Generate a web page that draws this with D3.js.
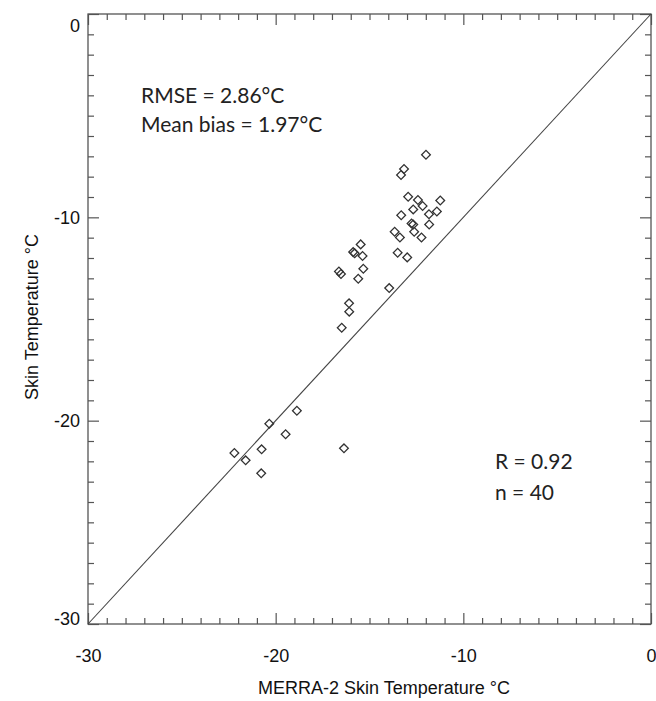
<!DOCTYPE html>
<html>
<head>
<meta charset="utf-8">
<script src="https://cdn.jsdelivr.net/npm/d3@7"></script>
<style>
  body { margin: 0; background: #fff; }
  svg { display: block; }
  .tick text { font-family: "Liberation Sans", Arial, sans-serif; font-size: 18px; fill: #111; }
  .tick line { stroke: #555; stroke-width: 1.2; }
  .axis_label { font-family: "Liberation Sans", Arial, sans-serif; font-size: 18px; fill: #111; }
  .note { font-family: "Lato", "Open Sans", sans-serif; font-size: 21px; fill: #222; }
</style>
</head>
<body>
<svg id="graph" width="656" height="701"></svg>
<script>
/*************************************************/
// Data: MERRA-2 skin temperature (x) vs observed skin temperature (y), in °C

var merraT = [-11.99, -13.16, -13.32, -12.94, -12.42, -11.23, -12.17, -12.67, -11.41, -13.31,
              -11.83, -12.76, -12.67, -11.82, -12.62, -13.66, -13.38, -12.23, -15.47, -15.87,
              -15.79, -15.37, -13.50, -12.99, -15.33, -16.63, -16.52, -15.60, -13.95, -16.09,
              -16.08, -16.48, -18.87, -20.34, -19.47, -22.20, -20.75, -21.60, -20.77, -16.36];
var skinT  = [ -6.92,  -7.62,  -7.92,  -8.99,  -9.15,  -9.17,  -9.44,  -9.61,  -9.71,  -9.90,
               -9.85, -10.30, -10.35, -10.35, -10.71, -10.71, -10.99, -10.99, -11.33, -11.71,
              -11.77, -11.90, -11.74, -11.97, -12.53, -12.66, -12.79, -13.02, -13.48, -14.23,
              -14.64, -15.43, -19.51, -20.15, -20.67, -21.59, -21.41, -21.95, -22.59, -21.36];

var axisRange = [-30, 0];
var majorTicks = [-30, -20, -10, 0];
var minorTicks = d3.range(-30, 1).filter(function(v){ return majorTicks.indexOf(v) < 0 });

var statsLeft = ['RMSE = 2.86°C', 'Mean bias = 1.97°C'];
var statsRight = ['R = 0.92', 'n = 40'];

/*************************************************/

var graph = d3.select('#graph');
var mLeft = 88, mTop = 14, mRight = 651, mBottom = 624;

var xScale = d3.scaleLinear().domain(axisRange).range([mLeft, mRight]);
var yScale = d3.scaleLinear().domain(axisRange).range([mBottom, mTop]);

// ticks on all four sides, pointing inward
function ticks(axis, tr, values, size, pad){
  var g = graph.append('g').attr('transform', tr)
    .call(axis.tickValues(values).tickSize(size).tickSizeOuter(0).tickPadding(pad || 3)
      .tickFormat(pad ? function(d){ return String(d) } : ''));
  g.select('.domain').remove();
  return g;
}

ticks(d3.axisBottom(xScale), 'translate(0,' + mBottom + ')', minorTicks, -6);
ticks(d3.axisTop(xScale), 'translate(0,' + mTop + ')', minorTicks, -6);
ticks(d3.axisLeft(yScale), 'translate(' + mLeft + ',0)', minorTicks, -6);
ticks(d3.axisRight(yScale), 'translate(' + mRight + ',0)', minorTicks, -6);

ticks(d3.axisBottom(xScale), 'translate(0,' + mBottom + ')', majorTicks, -11, 25);
ticks(d3.axisTop(xScale), 'translate(0,' + mTop + ')', majorTicks, -11);
var yMaj = ticks(d3.axisLeft(yScale), 'translate(' + mLeft + ',0)', majorTicks, -11, 8);
ticks(d3.axisRight(yScale), 'translate(' + mRight + ',0)', majorTicks, -11);

// nudge end labels of y axis inward like the original
yMaj.selectAll('.tick text').attr('dy', function(d){ return d == 0 ? '0.95em' : (d == -30 ? '0.05em' : '0.32em') });

// frame
graph.append('rect')
  .attr('x', mLeft).attr('y', mTop).attr('width', mRight - mLeft).attr('height', mBottom - mTop)
  .style('fill', 'none').style('stroke', '#555').style('stroke-width', 1.3);

// 1:1 line
var lineGen = d3.line().x(function(d){ return xScale(d) }).y(function(d){ return yScale(d) });
graph.append('path').attr('d', lineGen(axisRange))
  .style('stroke', '#444').style('stroke-width', 1.1).style('fill', 'none');

// diamonds
var pts = merraT.map(function(v, i){ return { x: v, y: skinT[i] } });
var sym = d3.symbol().type(d3.symbolSquare).size(38);
graph.append('g').selectAll('path').data(pts).enter().append('path')
  .attr('d', sym)
  .attr('transform', function(d){ return 'translate(' + xScale(d.x) + ',' + yScale(d.y) + ') rotate(45)' })
  .style('fill', 'none').style('stroke', '#333').style('stroke-width', 1.3);

// axis titles
graph.append('text').attr('class', 'axis_label')
  .attr('x', 384).attr('y', 694).style('text-anchor', 'middle')
  .text('MERRA-2 Skin Temperature °C');
graph.append('g').attr('transform', 'translate(38,' + 317 + ') rotate(-90)')
  .append('text').attr('class', 'axis_label').style('text-anchor', 'middle')
  .text('Skin Temperature °C');

// stats
graph.selectAll('.noteL').data(statsLeft).enter().append('text').attr('class', 'note')
  .attr('x', 141).attr('y', function(d, i){ return 103 + i * 29 }).text(function(d){ return d });
graph.selectAll('.noteR').data(statsRight).enter().append('text').attr('class', 'note')
  .attr('x', 495).attr('y', function(d, i){ return 469 + i * 31 }).text(function(d){ return d });
</script>
</body>
</html>
